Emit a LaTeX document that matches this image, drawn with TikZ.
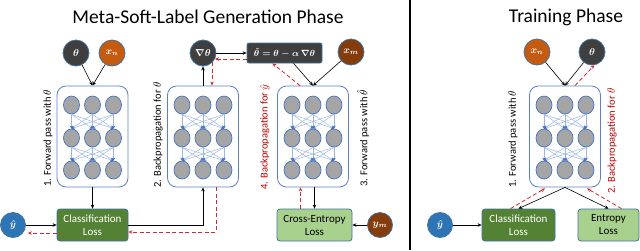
\documentclass[tikz,border=0pt]{standalone}
\usepackage{fontspec}
\setmainfont{Carlito}
\usetikzlibrary{arrows.meta,calc,shapes.geometric}
\definecolor{dk}{HTML}{3F3F3F}
\definecolor{orng}{HTML}{C55A11}
\definecolor{brwn}{HTML}{843C0C}
\definecolor{bluefill}{HTML}{2E75B6}
\definecolor{bord}{HTML}{41719C}
\definecolor{netb}{HTML}{5B7FC8}
\definecolor{neur}{HTML}{A5A5A5}
\definecolor{neurb}{HTML}{4472C4}
\definecolor{connc}{HTML}{9DB5E3}
\definecolor{dgreen}{HTML}{548235}
\definecolor{lgreen}{HTML}{A9D18E}
\definecolor{redd}{HTML}{D42A2A}
\definecolor{redt}{HTML}{C00000}
\newcommand\mynet[2]{%
  \node[netbox] (#1) at (#2,136.5) {};
  \foreach \rr/\yy in {1/105,2/138,3/170}{
    \foreach \cc/\dx in {1/-21,2/0,3/21}{
      \node[neuron] (#1-\rr-\cc) at (#2+\dx,\yy) {};
    }
  }
  \foreach \ra/\rb in {1/2,2/3}{
    \foreach \ca in {1,2,3}{
      \foreach \cb in {1,2,3}{
        \draw[conn] (#1-\ra-\ca.south) -- (#1-\rb-\cb.north);
      }
    }
  }
}
\begin{document}
\begin{tikzpicture}[x=1pt,y=-1pt,
  netbox/.style={draw=netb,line width=0.8pt,rounded corners=9pt,minimum width=71pt,minimum height=101pt,inner sep=0pt},
  neuron/.style={ellipse,draw=neurb,line width=0.7pt,fill=neur,minimum width=16pt,minimum height=18pt,inner sep=0pt},
  conn/.style={draw=connc,line width=0.5pt,-{Stealth[length=3pt,width=3.5pt,color=neurb]}},
  var/.style={circle,draw=bord,line width=0.8pt,minimum size=26pt,inner sep=0pt,text=white,font=\boldmath},
  lossbox/.style={rectangle,rounded corners=3pt,draw=bord,line width=0.8pt,minimum width=73pt,minimum height=32pt,inner sep=1pt,align=center,font=\fontsize{11}{13}\selectfont},
  arr/.style={draw=black,line width=0.6pt,-{Stealth[length=4pt,width=3.5pt]}},
  rd/.style={draw=redd,line width=0.8pt,dash pattern=on 4pt off 2.5pt,-{Stealth[length=4pt,width=3.5pt]}},
  vlab/.style={rotate=90,font=\fontsize{10.5}{12}\selectfont,inner sep=0pt},
  ttl/.style={font=\fontsize{19.5}{22}\selectfont,inner sep=0pt}
]
\useasboundingbox (0,0) rectangle (640,250);
% titles
\node[ttl] (t1) at (208,17) {Meta-Soft-Label Generation Phase};
\node[ttl] (t2) at (566,17) {Training Phase};
\coordinate (divtop) at (410,0);
\coordinate (divbot) at (410,250);
\draw[line width=1.5pt] (divtop) -- (divbot);
% networks
\mynet{n1}{92.5}
\mynet{n2}{203}
\mynet{n3}{313}
\mynet{n4}{565}
% top variables
\node[var,fill=dk] (th1) at (76,53) {$\theta$};
\node[var,fill=orng] (xn1) at (112,53) {$x_n$};
\node[var,fill=dk] (grad) at (203,53) {$\nabla\theta$};
\node[rectangle,rounded corners=2pt,draw=bord,line width=0.8pt,fill=dk,text=white,minimum width=75pt,minimum height=20pt,inner sep=1pt,font=\fontsize{9}{10}\selectfont\boldmath] (hat) at (284.5,53) {$\hat\theta=\theta-\alpha\,\nabla\theta$};
\node[var,fill=brwn] (xm) at (351,52) {$x_m$};
\node[var,fill=orng] (xn2) at (537,52) {$x_n$};
\node[var,fill=dk] (th2) at (592,52) {$\theta$};
% bottom
\node[var,fill=bluefill,minimum size=25pt] (yh1) at (13,225) {$\hat y$};
\node[lossbox,fill=dgreen,text=white,minimum width=71pt] (cl1) at (92.5,225) {Classification\\Loss};
\node[lossbox,fill=lgreen,text=black,minimum width=75pt] (ce) at (314.5,225) {Cross-Entropy\\Loss};
\node[var,fill=brwn,minimum size=25pt] (ym) at (380,225) {$y_m$};
\node[var,fill=bluefill,minimum size=25pt] (yh2) at (440,225) {$\hat y$};
\node[lossbox,fill=dgreen,text=white] (cl2) at (518.5,225) {Classification\\Loss};
\node[lossbox,fill=lgreen,text=black,minimum width=61pt] (en) at (608.5,225) {Entropy\\Loss};
% labels
\node[vlab] (l1) at (48,138) {1. Forward pass with $\theta$};
\node[vlab] (l2) at (158,135) {2. Backpropagation for $\theta$};
\node[vlab] (l3) at (363,138) {3. Forward pass with $\hat\theta$};
\node[vlab,text=redt] (l4) at (265,137) {4. Backpropagation for $\hat y$};
\node[vlab] (l5) at (513,139) {1. Forward pass with $\theta$};
\node[vlab,text=redt] (l6) at (612,141) {2. Backpropagation for $\theta$};
% black arrows, phase 1
\draw[arr] (th1) -- (n1.north);
\draw[arr] (xn1) -- (n1.north);
\draw[arr] (n1.south) -- (cl1.north);
\draw[arr] (yh1) -- (cl1.west);
\draw[arr] (cl1.east) -| (n2.south);
\draw[arr] (n2.north) -- (grad);
\draw[arr] (grad) -- (hat.west);
\draw[arr] (hat) -- (n3.north);
\draw[arr] (xm) -- (n3.north);
\draw[arr] (n3.south -| ce.north) -- (ce.north);
\draw[arr] (ym) -- (ce.east);
% red dashed, phase 1
\draw[rd] ([yshift=-8pt]cl1.west) -- ([yshift=-8pt,xshift=2pt]yh1.east);
\draw[rd] ([xshift=13pt]n2.south) |- ([yshift=-7pt]cl1.east);
\coordinate (g2) at ($(n2.north)+(9,0)$);
\draw[rd] (g2 |- grad.-45) -- (g2);
\draw[rd] ([yshift=-6pt]hat.west) -- ([yshift=-6pt]hat.west -| grad.-27);
\draw[rd] ([xshift=-13pt]n3.north) -- ([xshift=-12pt]hat.south);
\draw[rd] ([xshift=-14pt]ce.north) -- ([xshift=-14pt]ce.north |- n3.south);
% phase 2
\draw[arr] (xn2) -- (n4.north);
\draw[arr] (th2) -- (n4.north);
\draw[rd] ([xshift=10pt]n4.north) -- (th2.-80);
\draw[arr] (n4.south) -- (cl2.north);
\draw[arr] (n4.south) -- (en.north);
\draw[arr] (yh2) -- (cl2.west);
\draw[rd] ([xshift=-8pt]cl2.north) -- ([xshift=-20pt,yshift=-1pt]n4.south);
\draw[rd] ([xshift=13pt]en.north) -- ([xshift=22pt,yshift=-1pt]n4.south);
\end{tikzpicture}
\end{document}
